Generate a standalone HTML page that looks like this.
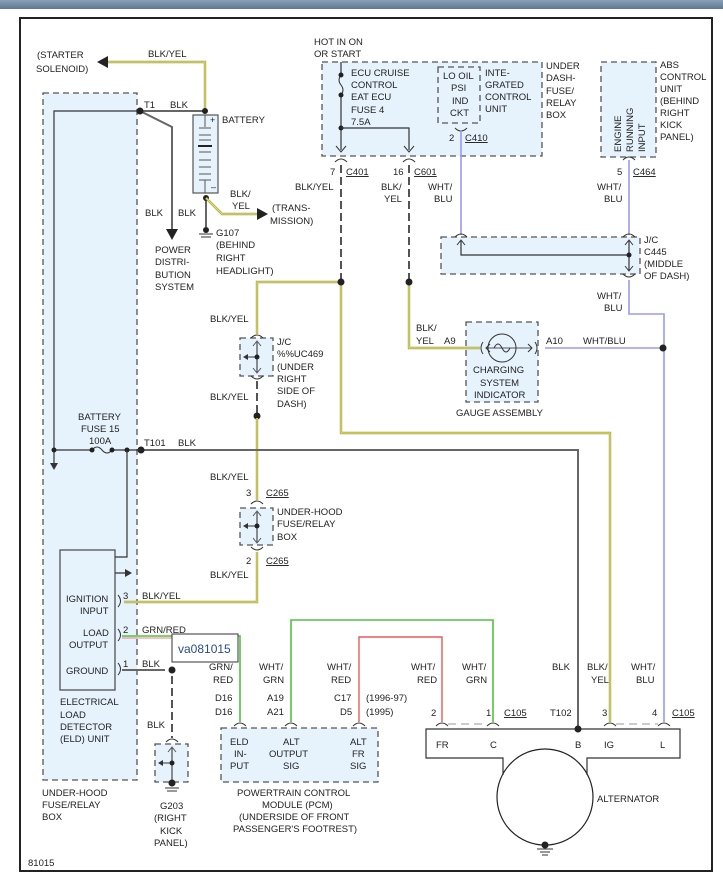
<!DOCTYPE html>
<html><head><meta charset="utf-8"><style>
html,body{margin:0;padding:0;background:#fff;width:723px;height:884px;overflow:hidden}
svg{display:block;font-family:"Liberation Sans",sans-serif;font-size:9.5px}
text{fill:#222}
.bx{fill:#e7f3fc;stroke:#555;stroke-width:1.3;stroke-dasharray:6,4}
.g{fill:none;stroke:#666;stroke-width:2}
.k{fill:none;stroke:#333;stroke-width:1.2}
.yo{fill:none;stroke:#9a9a80;stroke-width:2.4}
.y{fill:none;stroke:#f4ec20;stroke-width:1}
.b{fill:none;stroke:#9a9af2;stroke-width:1.6}
.gr{fill:none;stroke:#55c040;stroke-width:1.6}
.rd{fill:none;stroke:#e85a5a;stroke-width:1.4}
.dg{fill:none;stroke:#555;stroke-width:2;stroke-dasharray:8,4}
.pin{fill:none;stroke:#333;stroke-width:1}
</style></head><body>
<svg width="723" height="884" viewBox="0 0 723 884">
<defs><linearGradient id="hd" x1="0" y1="0" x2="0" y2="1"><stop offset="0" stop-color="#8aa0b8"/><stop offset="1" stop-color="#5f7791"/></linearGradient></defs>
<rect x="0" y="0" width="723" height="9" fill="url(#hd)"/>
<rect x="20" y="18" width="692" height="853" fill="#fff" stroke="#222" stroke-width="2"/>

<rect class="bx" x="43" y="93" width="94" height="687"/>
<rect class="bx" x="322" y="62" width="220" height="94"/>
<rect class="bx" x="438" y="67" width="42" height="56" fill="none"/>
<rect class="bx" x="601" y="62" width="55" height="95"/>
<rect class="bx" x="441" y="237" width="199" height="37"/>
<rect class="bx" x="466" y="322" width="72" height="80"/>
<rect class="bx" x="240" y="338" width="33" height="38"/>
<rect class="bx" x="240" y="508" width="33" height="37"/>
<rect class="bx" x="155" y="744" width="33" height="38"/>
<rect class="bx" x="221" y="728" width="157" height="54"/>

<polyline class="k" points="140,111 54,111 54,465"/>
<path d="M50,463 L58,463 L54,470 Z" fill="#333"/>
<polyline class="g" points="140,111 205,111"/>
<polyline class="g" points="140,111 172,127 172,232"/>
<path d="M166,229 L178,229 L172,240 Z" fill="#222"/>
<circle cx="140" cy="111" r="3.5" fill="#222"/>
<polyline class="yo" points="205,111 205,62 106,62"/><polyline class="y" points="205,111 205,62 106,62"/>
<path d="M97,62 L108,56 L108,68 Z" fill="#222"/>
<circle cx="205" cy="111" r="3" fill="#222"/>
<rect x="193" y="115" width="25" height="78" fill="#e7f3fc" stroke="#555" stroke-width="1.2"/>
<line x1="205" y1="115" x2="205" y2="127" stroke="#555"/>
<line x1="199" y1="128" x2="211" y2="128" stroke="#555"/><line x1="199" y1="135" x2="211" y2="135" stroke="#555"/>
<line x1="199" y1="140" x2="211" y2="140" stroke="#555"/><line x1="198" y1="146" x2="212" y2="146" stroke="#222" stroke-width="2"/>
<line x1="199" y1="152" x2="211" y2="152" stroke="#555"/><line x1="199" y1="160" x2="211" y2="160" stroke="#555"/>
<line x1="199" y1="167" x2="211" y2="167" stroke="#555"/><line x1="199" y1="174" x2="211" y2="174" stroke="#555"/>
<line x1="199" y1="180" x2="211" y2="180" stroke="#555"/><line x1="205" y1="180" x2="205" y2="193" stroke="#555"/>
<text x="210" y="123" font-size="9">+</text><text x="211" y="190" font-size="9">–</text>
<polyline class="g" points="206,198 206,227"/>
<circle cx="206" cy="198" r="3" fill="#222"/>
<circle cx="206" cy="230" r="3" fill="#222"/>
<line x1="199" y1="234" x2="213" y2="234" stroke="#333"/><line x1="201" y1="237" x2="211" y2="237" stroke="#333"/>
<polyline class="yo" points="206,198 222,214 258,214"/><polyline class="y" points="206,198 222,214 258,214"/>
<path d="M268,214 L257,208 L257,220 Z" fill="#222"/>

<line x1="341" y1="62" x2="341" y2="150" stroke="#333" stroke-width="1.2"/>
<rect x="338" y="75" width="6" height="20" fill="#e7f3fc"/>
<path d="M341,75 q-4,5 0,10 q4,5 0,10" fill="none" stroke="#333"/>
<circle cx="341" cy="75" r="2.5" fill="#222"/><circle cx="341" cy="95" r="2.5" fill="#222"/>
<circle cx="341" cy="128" r="2.5" fill="#222"/>
<polyline class="k" points="341,128 409,128 409,150"/>
<path d="M336,146 L341,152 L346,146 M404,146 L409,152 L414,146" fill="none" stroke="#333"/>
<path d="M335,162 q6,-6 12,0 M403,162 q6,-6 12,0 M455,128 q6,6 12,0 M623,160 q6,-6 12,0" class="pin"/>
<line class="dg" x1="341" y1="165" x2="341" y2="280"/>
<line class="dg" x1="409" y1="165" x2="409" y2="280"/>
<polyline class="b" points="461,130 461,235"/>
<polyline class="b" points="629,160 629,235"/>
<path d="M455,237 q6,-6 12,0 M623,237 q6,-6 12,0 M623,274 q6,6 12,0" class="pin"/>
<polyline class="k" points="461,241 461,255 629,255"/>
<line x1="629" y1="241" x2="629" y2="270" stroke="#333" stroke-width="1.2"/>
<circle cx="629" cy="255" r="2.5" fill="#222"/>
<path d="M457,245 L461,240 L465,245 M625,245 L629,240 L633,245 M625,266 L629,271 L633,266" fill="none" stroke="#333"/>
<polyline class="b" points="629,280 629,314 664,314 664,722"/>
<polyline class="b" points="545,348 664,348"/>
<circle cx="663" cy="348" r="3.5" fill="#222"/>
<polyline class="yo" points="409,284 409,348 480,348"/><polyline class="y" points="409,284 409,348 480,348"/>
<path d="M483,342 q-4,6 0,12 M535,342 q4,6 0,12" class="pin"/>
<line x1="486" y1="348" x2="532" y2="348" stroke="#555"/>
<circle cx="502" cy="348" r="14" fill="none" stroke="#333"/>
<path d="M494,348 q4,-8 8,0 q4,8 8,0" fill="none" stroke="#333"/>
<path d="M490,344 L486,348 L490,352 M528,344 L532,348 L528,352" fill="none" stroke="#333"/>

<polyline class="yo" points="341,284 341,433 610,433 610,722"/><polyline class="y" points="341,284 341,433 610,433 610,722"/>
<polyline class="yo" points="341,282 257,282 257,334"/><polyline class="y" points="341,282 257,282 257,334"/>
<circle cx="341" cy="282" r="3.5" fill="#222"/><circle cx="409" cy="282" r="3.5" fill="#222"/>
<path d="M251,338 q6,-6 12,0 M251,376 q6,6 12,0" class="pin"/>
<line x1="257" y1="342" x2="257" y2="372" stroke="#555" stroke-width="1.3"/>
<path d="M253,346 L257,341 L261,346 M253,368 L257,373 L261,368" fill="none" stroke="#555"/>
<line x1="244" y1="357" x2="257" y2="357" stroke="#333"/><path d="M243,357 L248,354 L248,360Z" fill="#333"/>
<circle cx="257" cy="357" r="2.5" fill="#222"/>
<line class="dg" x1="257" y1="381" x2="257" y2="414"/>
<circle cx="257" cy="416" r="3.5" fill="#222"/>
<polyline class="yo" points="257,418 257,500"/><polyline class="y" points="257,418 257,500"/>
<path d="M251,504 q6,-6 12,0 M251,547 q6,6 12,0" class="pin"/>
<line x1="257" y1="512" x2="257" y2="542" stroke="#555" stroke-width="1.3"/>
<path d="M253,516 L257,511 L261,516 M253,538 L257,543 L261,538" fill="none" stroke="#555"/>
<line x1="244" y1="526" x2="257" y2="526" stroke="#333"/><path d="M243,526 L248,523 L248,529Z" fill="#333"/>
<circle cx="257" cy="526" r="2.5" fill="#222"/>
<polyline class="yo" points="257,552 257,602 124,602"/><polyline class="y" points="257,552 257,602 124,602"/>

<polyline class="g" points="141,450 578,450 578,727"/>
<circle cx="141" cy="450" r="3.5" fill="#222"/>
<polyline class="k" points="54,450 92,450"/>
<path d="M92,450 q5,-6 10,0 q5,6 10,0" fill="none" stroke="#333"/>
<polyline class="k" points="112,450 141,450"/>
<circle cx="54" cy="450" r="2.5" fill="#222"/><circle cx="92" cy="450" r="2.5" fill="#222"/><circle cx="112" cy="450" r="2.5" fill="#222"/><circle cx="127" cy="450" r="2.5" fill="#222"/>
<polyline class="k" points="127,450 127,557 72,557 72,573 128,573"/>
<path d="M132,573 L125,569 L125,577Z" fill="#333"/>

<rect x="60" y="550" width="55" height="140" fill="#e7f3fc" stroke="#444" stroke-width="1.2"/>
<path d="M118,595 q5,6 0,12 M118,629 q5,6 0,12 M118,663 q5,6 0,12" class="pin"/>
<polyline class="gr" points="122,636 240,636 240,722"/><polyline fill="none" stroke="#e85a5a" stroke-width="0.8" points="122,638 238,638"/>
<line x1="122" y1="670" x2="165" y2="670" stroke="#666" stroke-width="2"/>
<circle cx="172" cy="670" r="3.5" fill="#222"/>
<line class="dg" x1="172" y1="676" x2="172" y2="738"/>
<path d="M166,742 q6,-6 12,0" class="pin"/>
<line x1="172" y1="748" x2="172" y2="783" stroke="#555" stroke-width="1.3"/>
<path d="M168,752 L172,747 L176,752" fill="none" stroke="#555"/>
<line x1="159" y1="763" x2="172" y2="763" stroke="#333"/><path d="M158,763 L163,760 L163,766Z" fill="#333"/>
<circle cx="172" cy="763" r="2.5" fill="#222"/>
<circle cx="172" cy="783" r="3.5" fill="#222"/>
<line x1="165" y1="788" x2="179" y2="788" stroke="#333"/><line x1="167" y1="791" x2="177" y2="791" stroke="#333"/>
<rect x="172" y="634" width="66" height="28" fill="#fff" stroke="#333"/>
<text x="178" y="653" font-size="12" style="fill:#2a4a8a">va081015</text>

<path d="M234,726 q6,-6 12,0 M285,726 q6,-6 12,0 M353,726 q6,-6 12,0" class="pin"/>
<polyline class="gr" points="291,722 291,620 493,620 493,722"/>
<polyline class="rd" points="359,722 359,637 442,637 442,722"/>
<path d="M436,726 q6,-6 12,0 M487,726 q6,-6 12,0 M604,726 q6,-6 12,0 M658,726 q6,-6 12,0" class="pin"/>
<line x1="448" y1="724" x2="487" y2="724" stroke="#999" stroke-dasharray="8,5"/>
<line x1="616" y1="724" x2="658" y2="724" stroke="#999" stroke-dasharray="8,5"/>
<circle cx="545" cy="797" r="48" fill="#fff" stroke="#222" stroke-width="1.2"/>
<path d="M503,775 V758 H426 V729 H680 V758 H587 V775" fill="none" stroke="#333" stroke-width="1.2"/>
<circle cx="578" cy="729" r="3.5" fill="#222"/>
<circle cx="545" cy="845" r="3.5" fill="#222"/>
<line x1="537" y1="849" x2="553" y2="849" stroke="#333"/><line x1="540" y1="852" x2="550" y2="852" stroke="#333"/><line x1="542" y1="855" x2="548" y2="855" stroke="#333"/>

<g>
<text x="148" y="57">BLK/YEL</text>
<text x="37" y="58">(STARTER</text><text x="36" y="72">SOLENOID)</text>
<text x="144" y="108">T1</text><text x="170" y="108">BLK</text>
<text x="222" y="123">BATTERY</text>
<text x="230" y="197">BLK/</text><text x="232" y="209">YEL</text>
<text x="272" y="211">(TRANS-</text><text x="270" y="224">MISSION)</text>
<text x="145" y="216">BLK</text><text x="178" y="216">BLK</text>
<text x="216" y="236">G107</text><text x="216" y="248">(BEHIND</text><text x="216" y="261">RIGHT</text><text x="216" y="274">HEADLIGHT)</text>
<text x="155" y="253">POWER</text><text x="155" y="265">DISTRI-</text><text x="155" y="278">BUTION</text><text x="155" y="290">SYSTEM</text>
<text x="314" y="45">HOT IN ON</text><text x="314" y="57">OR START</text>
<text x="351" y="76">ECU CRUISE</text><text x="351" y="88">CONTROL</text><text x="351" y="100">EAT ECU</text><text x="351" y="113">FUSE 4</text><text x="351" y="125">7.5A</text>
<text x="443" y="79">LO OIL</text><text x="451" y="91">PSI</text><text x="452" y="104">IND</text><text x="450" y="116">CKT</text>
<text x="485" y="76">INTE-</text><text x="485" y="88">GRATED</text><text x="485" y="100">CONTROL</text><text x="485" y="112">UNIT</text>
<text x="546" y="69">UNDER</text><text x="546" y="81">DASH-</text><text x="546" y="94">FUSE/</text><text x="546" y="106">RELAY</text><text x="546" y="118">BOX</text>
<text x="449" y="141">2</text><text x="465" y="141" text-decoration="underline">C410</text>
<text x="330" y="175">7</text><text x="346" y="175" text-decoration="underline">C401</text>
<text x="393" y="175">16</text><text x="414" y="175" text-decoration="underline">C601</text>
<text x="617" y="175">5</text><text x="633" y="175" text-decoration="underline">C464</text>
<text x="295" y="190">BLK/YEL</text>
<text x="381" y="190">BLK/</text><text x="384" y="202">YEL</text>
<text x="428" y="190">WHT/</text><text x="434" y="202">BLU</text>
<text x="597" y="190">WHT/</text><text x="604" y="202">BLU</text>
<text x="660" y="68">ABS</text><text x="660" y="80">CONTROL</text><text x="660" y="92">UNIT</text><text x="660" y="104">(BEHIND</text><text x="660" y="116">RIGHT</text><text x="660" y="128">KICK</text><text x="660" y="140">PANEL)</text>
<text transform="translate(621,152) rotate(-90)">ENGINE</text><text transform="translate(633,152) rotate(-90)">RUNNING</text><text transform="translate(645,152) rotate(-90)">INPUT</text>
<text x="644" y="243">J/C</text><text x="644" y="255">C445</text><text x="644" y="267">(MIDDLE</text><text x="644" y="279">OF DASH)</text>
<text x="597" y="299">WHT/</text><text x="604" y="311">BLU</text>
<text x="416" y="331">BLK/</text><text x="416" y="344">YEL</text><text x="444" y="344">A9</text>
<text x="546" y="344">A10</text><text x="583" y="344">WHT/BLU</text>
<text x="473" y="373">CHARGING</text><text x="480" y="386">SYSTEM</text><text x="474" y="398">INDICATOR</text>
<text x="456" y="416">GAUGE ASSEMBLY</text>
<text x="210" y="322">BLK/YEL</text><text x="210" y="400">BLK/YEL</text>
<text x="277" y="345">J/C</text><text x="277" y="357">%%UC469</text><text x="277" y="370">(UNDER</text><text x="277" y="382">RIGHT</text><text x="277" y="394">SIDE OF</text><text x="277" y="407">DASH)</text>
<text x="78" y="420">BATTERY</text><text x="81" y="432">FUSE 15</text><text x="89" y="444">100A</text>
<text x="144" y="446">T101</text><text x="178" y="446">BLK</text>
<text x="210" y="480">BLK/YEL</text><text x="246" y="496">3</text><text x="266" y="496" text-decoration="underline">C265</text>
<text x="277" y="515">UNDER-HOOD</text><text x="277" y="527">FUSE/RELAY</text><text x="277" y="540">BOX</text>
<text x="246" y="564">2</text><text x="266" y="564" text-decoration="underline">C265</text><text x="210" y="578">BLK/YEL</text>
<text x="66" y="602">IGNITION</text><text x="80" y="614">INPUT</text><text x="83" y="636">LOAD</text><text x="69" y="648">OUTPUT</text><text x="66" y="674">GROUND</text>
<text x="123" y="599">3</text><text x="142" y="599">BLK/YEL</text>
<text x="123" y="633">2</text><text x="142" y="633">GRN/RED</text>
<text x="123" y="667">1</text><text x="142" y="667">BLK</text>
<text x="60" y="705">ELECTRICAL</text><text x="60" y="718">LOAD</text><text x="60" y="730">DETECTOR</text><text x="60" y="742">(ELD) UNIT</text>
<text x="42" y="796">UNDER-HOOD</text><text x="42" y="808">FUSE/RELAY</text><text x="42" y="820">BOX</text>
<text x="147" y="728">BLK</text>
<text x="160" y="809">G203</text><text x="154" y="821">(RIGHT</text><text x="160" y="834">KICK</text><text x="154" y="846">PANEL)</text>
<text x="28" y="866">81015</text>
<text x="209" y="670">GRN/</text><text x="213" y="683">RED</text><text x="215" y="701">D16</text><text x="215" y="715">D16</text>
<text x="259" y="670">WHT/</text><text x="263" y="683">GRN</text><text x="267" y="701">A19</text><text x="267" y="715">A21</text>
<text x="327" y="670">WHT/</text><text x="331" y="683">RED</text><text x="334" y="701">C17</text><text x="340" y="715">D5</text>
<text x="366" y="701">(1996-97)</text><text x="366" y="715">(1995)</text>
<text x="411" y="670">WHT/</text><text x="417" y="683">RED</text>
<text x="462" y="670">WHT/</text><text x="466" y="683">GRN</text>
<text x="431" y="716">2</text><text x="486" y="716">1</text><text x="504" y="716" text-decoration="underline">C105</text>
<text x="552" y="670">BLK</text><text x="550" y="716">T102</text>
<text x="587" y="670">BLK/</text><text x="591" y="683">YEL</text><text x="602" y="716">3</text>
<text x="631" y="670">WHT/</text><text x="636" y="683">BLU</text><text x="652" y="716">4</text><text x="672" y="716" text-decoration="underline">C105</text>
<text x="230" y="745">ELD</text><text x="234" y="757">IN-</text><text x="230" y="769">PUT</text>
<text x="283" y="745">ALT</text><text x="269" y="757">OUTPUT</text><text x="283" y="769">SIG</text>
<text x="350" y="745">ALT</text><text x="352" y="757">FR</text><text x="350" y="769">SIG</text>
<text x="237" y="796">POWERTRAIN CONTROL</text><text x="262" y="808">MODULE (PCM)</text><text x="239" y="820">(UNDERSIDE OF FRONT</text><text x="233" y="832">PASSENGER'S FOOTREST)</text>
<text x="436" y="748">FR</text><text x="490" y="748">C</text><text x="575" y="748">B</text><text x="604" y="748">IG</text><text x="660" y="748">L</text>
<text x="597" y="802">ALTERNATOR</text>
</g>
</svg>
</body></html>
